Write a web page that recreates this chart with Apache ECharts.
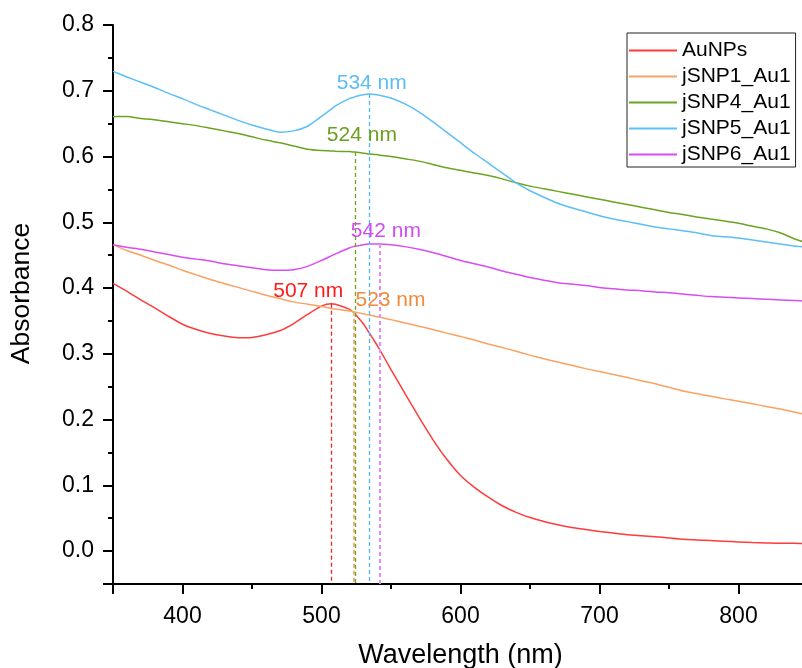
<!DOCTYPE html>
<html>
<head>
<meta charset="utf-8">
<script src="https://cdn.jsdelivr.net/npm/echarts@6/dist/echarts.min.js"></script>
<style>
  html, body { margin: 0; padding: 0; background: #fff; }
  #chart { width: 802px; height: 668px; }
</style>
</head>
<body>
<div id="chart"></div>
<script>
// UV-Vis absorbance spectra (wavelength in nm)
const wavelengths = [
  350, 360, 370, 380, 390, 400, 410, 420, 430, 440, 450, 460, 470, 480, 490, 500,
  507, 510, 520, 523, 524, 530, 534, 540, 542,
  550, 560, 570, 580, 590, 600, 610, 620, 630, 640, 650, 660, 670, 680, 690, 700,
  710, 720, 730, 740, 750, 760, 770, 780, 790, 800, 810, 820, 830, 840, 850
];

const auNPs = [
  0.407, 0.395, 0.382, 0.370, 0.357, 0.345, 0.337, 0.331, 0.327, 0.3245, 0.325, 0.329, 0.335, 0.346, 0.360, 0.3725,
  0.376, 0.3755, 0.368, 0.363, 0.361, 0.346, 0.333, 0.313, 0.306,
  0.276, 0.240, 0.204, 0.170, 0.140, 0.115, 0.097, 0.082, 0.069, 0.059, 0.051, 0.045, 0.040, 0.036, 0.033, 0.030,
  0.0275, 0.025, 0.0235, 0.022, 0.020, 0.018, 0.017, 0.016, 0.015, 0.014, 0.013, 0.0125, 0.012, 0.012, 0.011
];

const jSNP1 = [
  0.466, 0.457, 0.450, 0.442, 0.435, 0.427, 0.420, 0.413, 0.407, 0.401, 0.395, 0.389, 0.384, 0.379, 0.3755, 0.372,
  0.369, 0.368, 0.365, 0.364, 0.3635, 0.361, 0.359, 0.3565, 0.3555,
  0.352, 0.347, 0.342, 0.337, 0.3315, 0.3265, 0.321, 0.315, 0.3095, 0.304, 0.298, 0.2925, 0.2875, 0.2825, 0.2775, 0.273,
  0.2685, 0.264, 0.259, 0.2545, 0.249, 0.2435, 0.2395, 0.2355, 0.2315, 0.228, 0.224, 0.220, 0.216, 0.2115, 0.207
];

const jSNP4 = [
  0.661, 0.661, 0.658, 0.656, 0.653, 0.650, 0.647, 0.643, 0.639, 0.635, 0.630, 0.625, 0.621, 0.616, 0.611, 0.609,
  0.6085, 0.608, 0.6075, 0.607, 0.607, 0.605, 0.604, 0.603, 0.602,
  0.600, 0.5965, 0.593, 0.588, 0.583, 0.579, 0.575, 0.571, 0.566, 0.560, 0.555, 0.551, 0.547, 0.543, 0.539, 0.535,
  0.531, 0.527, 0.523, 0.519, 0.515, 0.512, 0.508, 0.505, 0.502, 0.4985, 0.494, 0.490, 0.484, 0.475, 0.468
];

const jSNP5 = [
  0.7295, 0.721, 0.713, 0.705, 0.696, 0.688, 0.679, 0.671, 0.663, 0.655, 0.648, 0.642, 0.637, 0.639, 0.646, 0.661,
  0.672, 0.677, 0.688, 0.690, 0.691, 0.694, 0.695, 0.694, 0.693,
  0.689, 0.680, 0.668, 0.653, 0.637, 0.621, 0.605, 0.590, 0.575, 0.560, 0.548, 0.538, 0.529, 0.522, 0.516, 0.510,
  0.505, 0.501, 0.497, 0.493, 0.490, 0.487, 0.484, 0.480, 0.478, 0.476, 0.473, 0.470, 0.467, 0.464, 0.462
];

const jSNP6 = [
  0.466, 0.462, 0.459, 0.455, 0.451, 0.447, 0.444, 0.441, 0.437, 0.434, 0.431, 0.428, 0.427, 0.428, 0.433, 0.442,
  0.449, 0.452, 0.461, 0.463, 0.4635, 0.466, 0.467, 0.467, 0.467,
  0.466, 0.463, 0.459, 0.454, 0.448, 0.442, 0.437, 0.432, 0.426, 0.421, 0.416, 0.412, 0.408, 0.406, 0.404, 0.401,
  0.399, 0.397, 0.396, 0.394, 0.393, 0.391, 0.389, 0.387, 0.386, 0.385, 0.384, 0.383, 0.382, 0.381, 0.380
];

// Peak wavelengths marked on each spectrum
const seriesNames = ['AuNPs', 'jSNP1_Au1', 'jSNP4_Au1', 'jSNP5_Au1', 'jSNP6_Au1'];
const seriesValues = [auNPs, jSNP1, jSNP4, jSNP5, jSNP6];
const peakNm = [507, 523, 524, 534, 542];

// Styling
const lineColors = ['#ff3b3b', '#f9a262', '#6aa420', '#5cbff7', '#d94cf2'];
const labelColors = ['#ff1a1a', '#f08a3c', '#6a9e1e', '#5cbcf5', '#d24cf0'];
const dashColors = ['#e8282a', '#f6b07c', '#6aa420', '#4cb8f6', '#e28ef6'];
const dashWidths = [1.3, 2, 1.3, 1.3, 2];
const labelOffsets = [[-23, -13], [37, -12], [7, -17], [3, -11], [6, -13]];

const FONT = 'Liberation Sans, Arial, Helvetica, sans-serif';
const yMin = -0.05;

const series = seriesNames.map((name, i) => {
  const vals = seriesValues[i];
  const idx = wavelengths.indexOf(peakNm[i]);
  const peakVal = vals[idx];
  return {
    name: name,
    type: 'line',
    data: wavelengths.map((w, k) => [w, vals[k]]),
    symbol: 'none',
    smooth: 0.2,
    lineStyle: { color: lineColors[i], width: 1.5 },
    itemStyle: { color: lineColors[i] },
    z: 3,
    markLine: {
      silent: true,
      symbol: 'none',
      animation: false,
      label: { show: false },
      lineStyle: { color: dashColors[i], width: dashWidths[i], type: [4, 3] },
      data: [[{ coord: [peakNm[i], peakVal] }, { coord: [peakNm[i], yMin] }]]
    },
    markPoint: {
      silent: true,
      animation: false,
      symbol: 'circle',
      symbolSize: 0,
      data: [{ coord: [peakNm[i], peakVal], value: peakNm[i] }],
      label: {
        show: true,
        position: 'inside',
        offset: labelOffsets[i],
        formatter: peakNm[i] + ' nm',
        color: labelColors[i],
        fontFamily: FONT,
        fontSize: 21
      }
    }
  };
});

const chart = echarts.init(document.getElementById('chart'), null, { renderer: 'canvas' });
chart.setOption({
  animation: false,
  backgroundColor: '#ffffff',
  grid: { left: 113, top: 25, width: 695, height: 559, containLabel: false, outerBoundsMode: 'none' },
  legend: {
    orient: 'vertical',
    left: 627,
    top: 33,
    padding: [7, 5, 2, 2],
    icon: 'rect',
    itemWidth: 48,
    itemHeight: 2,
    itemGap: 5,
    borderColor: '#222',
    borderWidth: 1,
    borderRadius: 0,
    textStyle: { fontFamily: FONT, fontSize: 21, lineHeight: 21, color: '#000' },
    data: seriesNames
  },
  xAxis: {
    type: 'value',
    min: 350,
    max: 850,
    splitNumber: 5,
    name: 'Wavelength (nm)',
    nameLocation: 'middle',
    nameGap: 58,
    nameTextStyle: { fontFamily: FONT, fontSize: 27, color: '#000' },
    axisLine: { show: true, onZero: false, lineStyle: { color: '#000', width: 2 } },
    axisTick: { show: true, inside: false, length: 10, lineStyle: { color: '#000', width: 2 } },
    minorTick: { show: true, splitNumber: 2, length: 5, lineStyle: { color: '#000', width: 2 } },
    axisLabel: { showMinLabel: false, showMaxLabel: false, margin: 21, fontFamily: FONT, fontSize: 23, color: '#000' },
    splitLine: { show: false },
    minorSplitLine: { show: false }
  },
  yAxis: {
    type: 'value',
    min: yMin,
    max: 0.8,
    splitNumber: 8,
    name: 'Absorbance',
    nameLocation: 'middle',
    nameGap: 78,
    nameTextStyle: { fontFamily: FONT, fontSize: 26.5, color: '#000', padding: [0, 0, 0, 22] },
    axisLine: { show: true, onZero: false, lineStyle: { color: '#000', width: 2 } },
    axisTick: { show: true, inside: false, length: 10, lineStyle: { color: '#000', width: 2 } },
    minorTick: { show: true, splitNumber: 2, length: 5, lineStyle: { color: '#000', width: 2 } },
    axisLabel: {
      showMinLabel: false,
      margin: 19,
      fontFamily: FONT,
      fontSize: 23,
      color: '#000',
      formatter: v => v.toFixed(1)
    },
    splitLine: { show: false },
    minorSplitLine: { show: false }
  },
  series: series
});
</script>
</body>
</html>
